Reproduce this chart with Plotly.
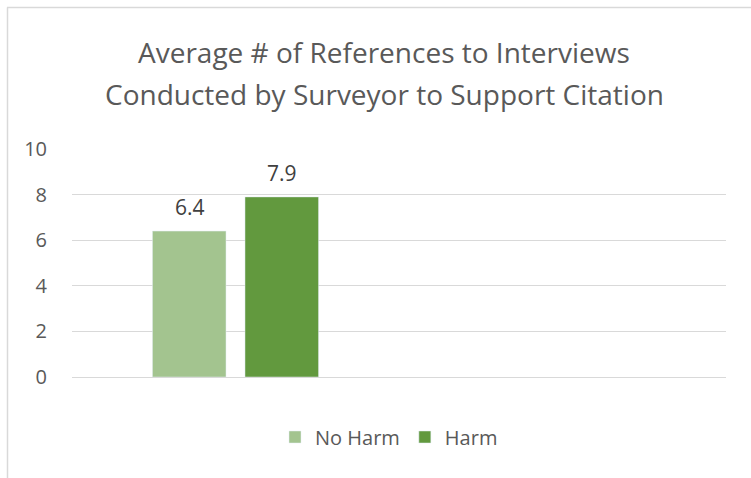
import plotly.graph_objects as go

categories = ["Category 1", "Category 2"]
no_harm = [6.4, None]
harm = [7.9, None]
y_ticks = [0, 2, 4, 6, 8, 10]
title_lines = ["Average # of References to Interviews",
               "Conducted by Surveyor to Support Citation"]

W, H = 751, 478
L, R, T, B = 72, 25, 149, 101
pw, ph = W - L - R, H - T - B

font = "Open Sans"
gray = "#595959"
colors = ["#A3C48F", "#62993E"]

fig = go.Figure()
fig.add_trace(go.Bar(name="No Harm", x=categories, y=no_harm, marker_color=colors[0]))
fig.add_trace(go.Bar(name="Harm", x=categories, y=harm, marker_color=colors[1]))

def px_x(p):
    return (p - L) / pw

def px_y(p):
    return (H - B - p) / ph

annotations = []
# title lines
for i, line in enumerate(title_lines):
    annotations.append(dict(text=line, xref="paper", yref="paper", x=px_x(384), y=px_y(52 + 42 * i),
                            xanchor="center", yanchor="middle", showarrow=False,
                            font=dict(family=font, size=28, color=gray)))
# data labels
for vals, shift in ((no_harm, -46), (harm, 46)):
    for c, v in zip(categories, vals):
        if v is None:
            continue
        annotations.append(dict(text=f"{v}", x=c, y=v, xref="x", yref="y", xshift=shift, yshift=24,
                                xanchor="center", yanchor="middle", showarrow=False,
                                font=dict(family=font, size=21, color="#404040")))

fig.update_layout(
    width=W, height=H,
    margin=dict(l=L, r=R, t=T, b=B),
    paper_bgcolor="white", plot_bgcolor="white",
    barmode="group", bargap=0.434, bargroupgap=0.205,
    xaxis=dict(showticklabels=False, showgrid=False, zeroline=False, showline=False,
               range=[-0.5, 1.5]),
    yaxis=dict(range=[0, 10], tickvals=y_ticks, showgrid=True, gridcolor="#D9D9D9",
               gridwidth=1.3, zeroline=True, zerolinecolor="#D9D9D9", zerolinewidth=1.3,
               showline=False, ticks="", ticklabelstandoff=24,
               tickfont=dict(family=font, size=20, color=gray)),
    legend=dict(orientation="h", x=px_x(389), xanchor="center", y=px_y(437), yanchor="middle",
                font=dict(family=font, size=20, color=gray), itemwidth=30,
                traceorder="normal"),
    annotations=annotations,
    shapes=[
        dict(type="line", xref="paper", yref="paper", x0=px_x(7.5), x1=px_x(7.5),
             y0=px_y(7.5), y1=px_y(480), line=dict(color="#D9D9D9", width=1.5)),
        dict(type="line", xref="paper", yref="paper", x0=px_x(7), x1=px_x(760),
             y0=px_y(7.5), y1=px_y(7.5), line=dict(color="#D9D9D9", width=1.5)),
    ],
)

fig.write_html("out.html")
